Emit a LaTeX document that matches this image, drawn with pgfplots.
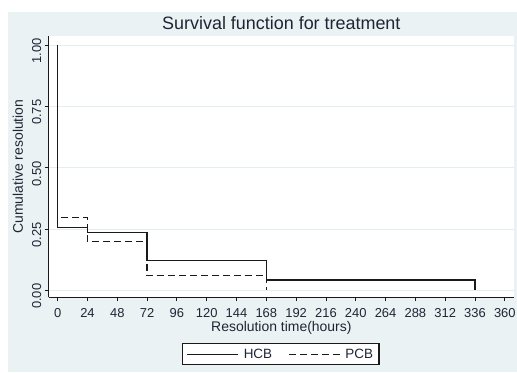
\documentclass[border=0pt]{standalone}
\usepackage{pgfplots}
\pgfplotsset{compat=1.18}
\usepackage{fontspec}
\setmainfont{Liberation Sans}
\definecolor{bgcol}{HTML}{EAF2F3}
\definecolor{gridcol}{HTML}{E4EDEF}
\definecolor{txtcol}{HTML}{1E2636}
\definecolor{linecol}{HTML}{1A1A1A}
\begin{document}
\begin{tikzpicture}[x=1bp,y=1bp]
\path[use as bounding box] (0,0) rectangle (517,372);
\fill[bgcol] (8,0) rectangle (517,360);
\begin{axis}[
  at={(48.7bp,74.7bp)}, anchor=south west,
  scale only axis, width=465.3bp, height=261.3bp,
  xmin=-7.2, xmax=367.4, ymin=-0.0285, ymax=1.0367,
  axis background/.style={fill=white},
  axis x line*=bottom, axis y line*=left,
  axis line style={linecol, line width=1.2bp, -},
  xtick={0,24,...,360},
  ytick={0,0.25,0.5,0.75,1},
  yticklabels={0.00,0.25,0.50,0.75,1.00},
  tick align=outside, major tick length=4bp,
  tick style={linecol, line width=0.9bp},
  ymajorgrids, grid style={gridcol, line width=0.8bp},
  /pgf/number format/assume math mode=true,
  ticklabel style={font=\fontsize{13}{15}\selectfont, text=txtcol},
  yticklabel style={rotate=90, anchor=south, xshift=-6bp},
  xticklabel style={yshift=-4bp},
  title={Survival function for treatment},
  title style={at={(axis description cs:0.5,1.0497)}, anchor=center, yshift=0pt, font=\fontsize{18}{20}\selectfont, text=txtcol},
  every axis title shift=0pt,
  xlabel={Resolution time(hours)},
  xlabel style={at={(axis description cs:0.5,-0.116)}, anchor=center, font=\fontsize{14}{16}\selectfont, text=txtcol},
  ylabel={Cumulative resolution},
  ylabel style={at={(axis description cs:-0.066,0.5)}, anchor=center, rotate=0, font=\fontsize{14}{16}\selectfont, text=txtcol},
  legend columns=2,
  legend style={at={(axis description cs:0.4988,-0.2178)}, anchor=center, draw=linecol, line width=1.1bp, fill=white,
     font=\fontsize{13.5}{15}\selectfont, text=txtcol, inner xsep=4bp, inner ysep=3bp,
     /tikz/every odd column/.append style={column sep=3bp},
     /tikz/every even column/.append style={column sep=14bp}},
  legend image code/.code={\draw[#1, line width=1.2bp] (0bp,0bp) -- (51bp,0bp);},
]
\addplot[const plot, linecol, line width=1.2bp] coordinates {
 (0,1) (0,0.256) (24,0.236) (72,0.121) (168,0.042) (336,0)
};
\addlegendentry{HCB}
\addplot[const plot, linecol, line width=1.2bp, dash pattern=on 7bp off 4bp] coordinates {
 (0,1) (0,0.298) (24,0.200) (72,0.060) (168,0)
};
\addlegendentry{PCB}
\end{axis}
\end{tikzpicture}
\end{document}
